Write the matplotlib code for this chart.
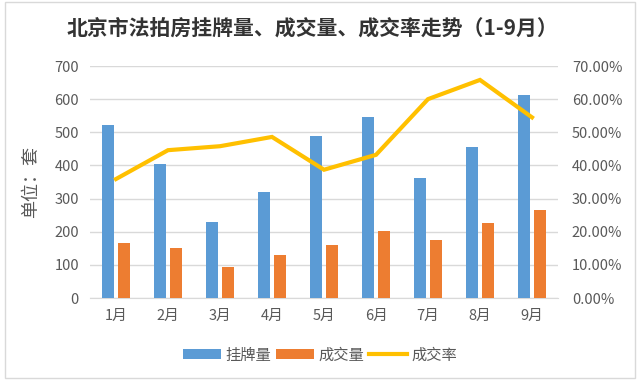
import matplotlib
matplotlib.use("Agg")
import matplotlib.pyplot as plt
from matplotlib.ticker import FuncFormatter, MultipleLocator
from matplotlib.patches import Rectangle
import numpy as np

plt.rcParams['font.family'] = ['Noto Sans CJK SC', 'DejaVu Sans']

months = ['1月', '2月', '3月', '4月', '5月', '6月', '7月', '8月', '9月']
listed = [522, 405, 229, 319, 488, 546, 362, 455, 612]
sold = [166, 152, 93, 131, 160, 203, 176, 227, 267]
rate = [35.9, 44.6, 45.8, 48.6, 38.7, 43.2, 60.0, 65.8, 54.5]

title = '北京市法拍房挂牌量、成交量、成交率走势（1-9月）'
series_names = ['挂牌量', '成交量', '成交率']

blue = '#5B9BD5'
orange = '#ED7D31'
yellow = '#FFC000'
txt = '#595959'
grid = '#D9D9D9'

fig = plt.figure(figsize=(6.4, 3.85), dpi=100)
ax = fig.add_axes([90/640, 1-298/385, 468/640, 232/385])
ax2 = ax.twinx()

x = np.arange(len(months))
w = 0.22
b1 = ax.bar(x - 0.15, listed, width=w, color=blue, label=series_names[0], zorder=3)
b2 = ax.bar(x + 0.15, sold, width=w, color=orange, label=series_names[1], zorder=3)
l1, = ax2.plot(x, rate, color=yellow, lw=3, label=series_names[2], zorder=4,
               solid_joinstyle='miter')

ax.set_xlim(-0.5, len(months) - 0.5)
ax.set_ylim(0, 700)
ax.yaxis.set_major_locator(MultipleLocator(100))
ax2.set_ylim(0, 70)
ax2.yaxis.set_major_locator(MultipleLocator(10))
ax2.yaxis.set_major_formatter(FuncFormatter(lambda v, p: f'{v:.2f}%'))

ax.grid(axis='y', color=grid, lw=1, zorder=0)
ax.set_axisbelow(True)
for a in (ax, ax2):
    for s in a.spines.values():
        s.set_visible(False)
    a.tick_params(length=0, colors=txt, labelsize=10.5)
ax.spines['bottom'].set_visible(True)
ax.spines['bottom'].set_color(grid)
ax.set_xticks(x)
ax.set_xticklabels(months)
ax.tick_params(axis='x', pad=8)
ax.tick_params(axis='y', pad=8)
ax2.tick_params(axis='y', pad=10)

ax.set_ylabel('单位：套', color=txt, fontsize=13, labelpad=10)

fig.text(312/640, 1-28/385, title, ha='center', va='center',
         fontsize=15, fontweight='bold', color='#333333')

fig.legend(handles=[b1, b2, l1], labels=series_names, loc='center',
           bbox_to_anchor=(320/640, 1-355/385), ncol=3, frameon=False,
           fontsize=11, labelcolor=txt, handlelength=2.5, handletextpad=0.3,
           columnspacing=0.3, handleheight=0.6)

fig.patches.append(Rectangle((5/640, 7/385), 630/640, 376/385, transform=fig.transFigure,
                             fill=False, edgecolor='#D9D9D9', lw=1))

fig.savefig('out.png', dpi=100)
